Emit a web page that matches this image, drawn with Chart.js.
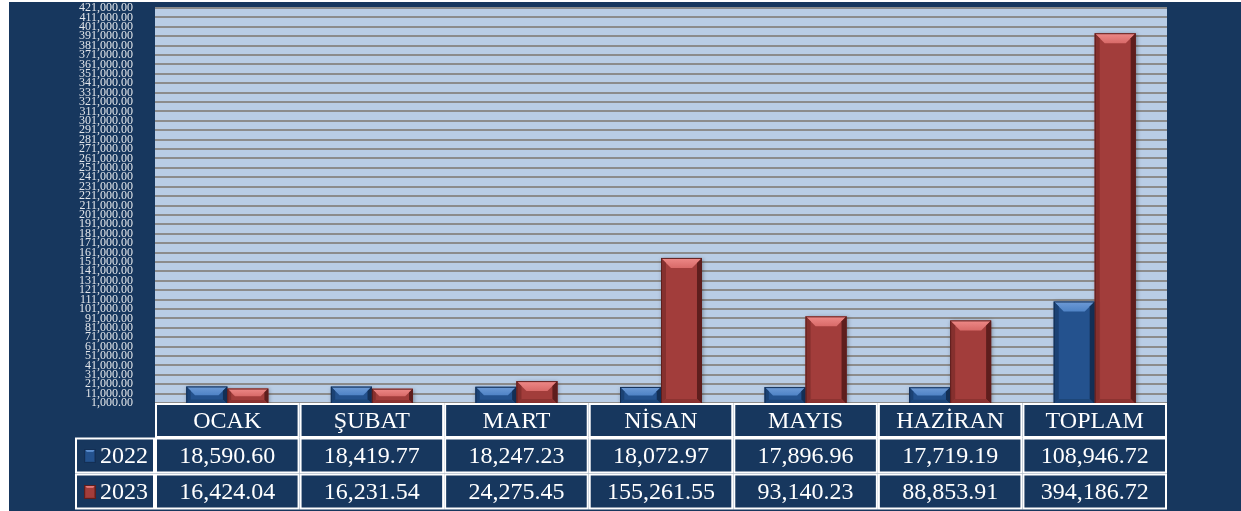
<!DOCTYPE html>
<html><head><meta charset="utf-8">
<script src="https://cdn.jsdelivr.net/npm/chart.js@4"></script>
<style>html,body{margin:0;padding:0;background:#fff;overflow:hidden}#wrap{width:1241px;height:511px;position:relative}canvas{display:block}</style>
</head><body><div id="wrap"><canvas id="c" width="1241" height="511"></canvas></div>
<script>
const categories = ['OCAK', 'ŞUBAT', 'MART', 'NİSAN', 'MAYIS', 'HAZİRAN', 'TOPLAM'];
const seriesNames = ['2022', '2023'];
const values2022 = [18590.60, 18419.77, 18247.23, 18072.97, 17896.96, 17719.19, 108946.72];
const values2023 = [16424.04, 16231.54, 24275.45, 155261.55, 93140.23, 88853.91, 394186.72];
const yMin = 1000;
const yMax = 421000;
const yStep = 10000;

const NAVY = '#17375E';
const PLOT_BG = '#B9CDE5';
const palettes = [
  {main: '#24528E', top: '#4F83C6', topEdge: '#6E9BD6', side: '#1B4274', dark: '#132F55', bottom: '#1D4678'},
  {main: '#A23D3B', top: '#D86A68', topEdge: '#EE8A88', side: '#85302E', dark: '#5E1E1D', bottom: '#8C3331'}
];
const fmt = v => v.toLocaleString('en-US', {minimumFractionDigits: 2, maximumFractionDigits: 2});

function bevel(ctx, l, t, r, bt, p, bmax) {
  const w = r - l, h = bt - t;
  if (w <= 0 || h <= 0) return;
  const b = Math.min(bmax, w / 4, h / 2);
  ctx.save();
  const g = ctx.createLinearGradient(0, t, 0, t + b);
  g.addColorStop(0, p.topEdge); g.addColorStop(1, p.top);
  ctx.fillStyle = g;
  ctx.beginPath(); ctx.moveTo(l, t); ctx.lineTo(r, t); ctx.lineTo(r - b, t + b); ctx.lineTo(l + b, t + b); ctx.closePath(); ctx.fill();
  ctx.fillStyle = p.side;
  ctx.beginPath(); ctx.moveTo(l, t); ctx.lineTo(l + b * 0.5, t + b * 0.5); ctx.lineTo(l + b * 0.5, bt - b * 0.5); ctx.lineTo(l, bt); ctx.closePath(); ctx.fill();
  ctx.fillStyle = p.dark;
  ctx.beginPath(); ctx.moveTo(r, t); ctx.lineTo(r - b * 0.5, t + b * 0.5); ctx.lineTo(r - b * 0.5, bt - b * 0.5); ctx.lineTo(r, bt); ctx.closePath(); ctx.fill();
  ctx.fillStyle = p.bottom;
  ctx.beginPath(); ctx.moveTo(l, bt); ctx.lineTo(r, bt); ctx.lineTo(r - b * 0.5, bt - b * 0.5); ctx.lineTo(l + b * 0.5, bt - b * 0.5); ctx.closePath(); ctx.fill();
  ctx.strokeStyle = p.dark; ctx.lineWidth = 1;
  ctx.strokeRect(l + 0.5, t + 0.5, w - 1, h - 1);
  ctx.restore();
}

const bgPlugin = {
  id: 'bg',
  beforeDraw(chart) {
    const {ctx, chartArea: a} = chart;
    ctx.save();
    ctx.fillStyle = '#ffffff'; ctx.fillRect(0, 0, chart.width, chart.height);
    ctx.fillStyle = NAVY; ctx.fillRect(9, 2, chart.width - 9, chart.height - 2);
    ctx.fillStyle = PLOT_BG; ctx.fillRect(a.left, a.top - 1, a.right - a.left, a.bottom - a.top + 1);
    ctx.restore();
  },
  beforeDatasetsDraw(chart) {
    const ctx = chart.ctx;
    ctx.save();
    ctx.shadowColor = 'rgba(0,0,0,0.35)'; ctx.shadowBlur = 4; ctx.shadowOffsetX = 1; ctx.shadowOffsetY = 1;
  },
  afterDatasetsDraw(chart) {
    const ctx = chart.ctx;
    ctx.restore();
    chart.data.datasets.forEach((ds, di) => {
      const meta = chart.getDatasetMeta(di);
      meta.data.forEach(el => {
        const {x, y, base, width} = el.getProps(['x', 'y', 'base', 'width'], true);
        bevel(ctx, x - width / 2, y, x + width / 2, base, palettes[di], 10);
      });
    });
  },
  afterDraw(chart) {
    const {ctx, chartArea: a} = chart;
    const n = categories.length;
    const cw = (a.right - a.left) / n;
    const legL = 75;
    const rows = [a.bottom, a.bottom + 34, a.bottom + 70, a.bottom + 106];
    ctx.save();
    ctx.fillStyle = NAVY;
    ctx.fillRect(a.left, rows[0], a.right - a.left, rows[1] - rows[0]);
    ctx.fillRect(legL, rows[1], a.right - legL, rows[3] - rows[1]);
    ctx.strokeStyle = '#ffffff'; ctx.lineWidth = 2;
    for (let i = 0; i < n; i++) {
      ctx.strokeRect(a.left + i * cw + 1, rows[0] + 1, cw - 2, rows[1] - rows[0] - 1);
    }
    for (let r = 1; r <= 2; r++) {
      ctx.strokeRect(legL + 1, rows[r] + 1.5, a.left - legL - 2, rows[r + 1] - rows[r] - 2);
      for (let i = 0; i < n; i++) {
        ctx.strokeRect(a.left + i * cw + 1, rows[r] + 1.5, cw - 2, rows[r + 1] - rows[r] - 2);
      }
    }
    ctx.fillStyle = '#ffffff';
    ctx.font = '24px "Liberation Serif", "Times New Roman", serif';
    ctx.textAlign = 'center'; ctx.textBaseline = 'middle';
    const series = [values2022, values2023];
    for (let i = 0; i < n; i++) {
      const cx = a.left + (i + 0.5) * cw;
      ctx.fillText(categories[i], cx, (rows[0] + rows[1]) / 2 + 2);
      for (let r = 0; r < 2; r++) {
        ctx.fillText(fmt(series[r][i]), cx, (rows[r + 1] + rows[r + 2]) / 2 + 2);
      }
    }
    ctx.textAlign = 'left';
    for (let r = 0; r < 2; r++) {
      const cy = (rows[r + 1] + rows[r + 2]) / 2;
      ctx.fillStyle = palettes[r].main;
      ctx.fillRect(84, cy - 6, 12, 14);
      bevel(ctx, 84, cy - 6, 96, cy + 8, palettes[r], 4);
      ctx.fillStyle = '#ffffff';
      ctx.fillText(seriesNames[r], 100, cy + 2);
    }
    ctx.restore();
  }
};

new Chart(document.getElementById('c'), {
  type: 'bar',
  data: {
    labels: categories,
    datasets: [
      {label: seriesNames[0], data: values2022, backgroundColor: palettes[0].main, borderWidth: 0},
      {label: seriesNames[1], data: values2023, backgroundColor: palettes[1].main, borderWidth: 0}
    ]
  },
  options: {
    responsive: false,
    animation: false,
    devicePixelRatio: 1,
    layout: {padding: {top: 8, right: 74, bottom: 108, left: 0}},
    datasets: {bar: {categoryPercentage: 0.567, barPercentage: 1}},
    plugins: {legend: {display: false}, tooltip: {enabled: false}},
    scales: {
      x: {display: false},
      y: {
        min: yMin, max: yMax,
        afterFit(s) { s.width = 155; },
        border: {display: false},
        grid: {color: '#8C8C8C', lineWidth: 2, drawTicks: true, tickLength: 22, tickColor: 'rgba(0,0,0,0)'},
        ticks: {
          stepSize: yStep, autoSkip: false, padding: 0,
          color: '#E3E6EA',
          font: {family: '"Liberation Serif", "Times New Roman", serif', size: 12, lineHeight: 0.75},
          callback: v => fmt(v)
        }
      }
    }
  },
  plugins: [bgPlugin]
});
</script>
</body></html>
